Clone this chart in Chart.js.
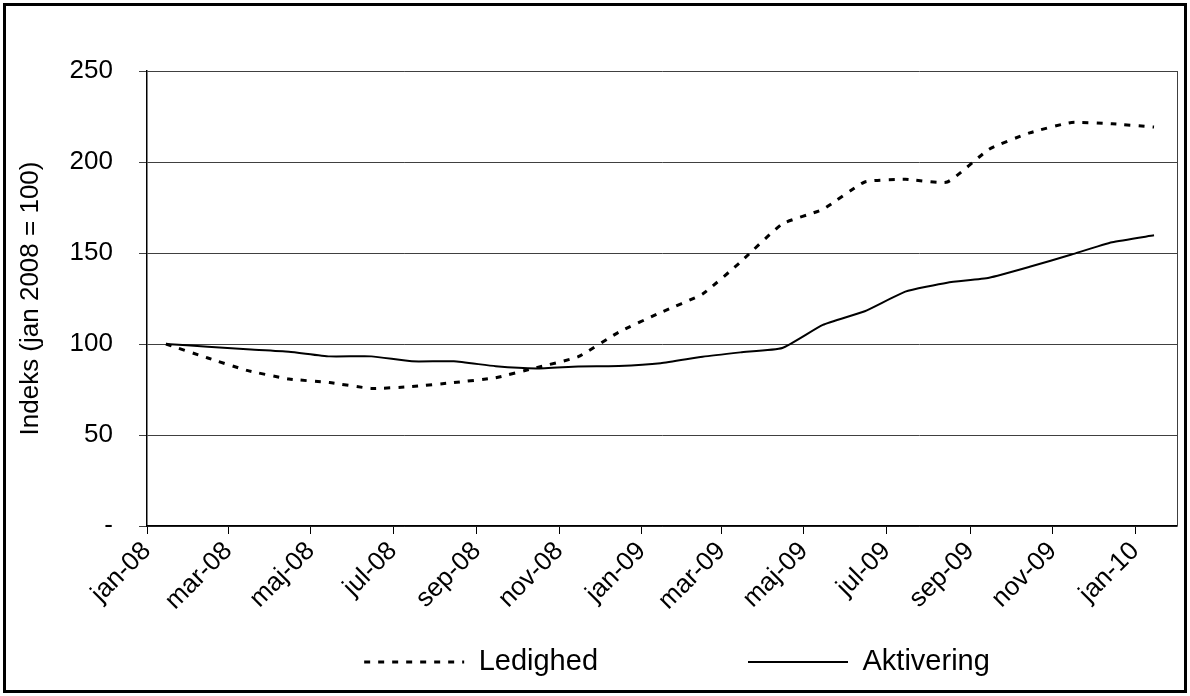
<!DOCTYPE html>
<html>
<head>
<meta charset="utf-8">
<script src="https://cdn.jsdelivr.net/npm/chart.js@4.4.1/dist/chart.umd.min.js"></script>
<style>
  html, body { margin: 0; padding: 0; background: #fff; }
  canvas { display: block; }
</style>
</head>
<body>
<canvas id="c" width="1190" height="696"></canvas>
<script>
// ---- Data (monthly observations, mid-month) ----
const months = ['2008-01','2008-02','2008-03','2008-04','2008-05','2008-06','2008-07','2008-08','2008-09','2008-10','2008-11','2008-12',
                '2009-01','2009-02','2009-03','2009-04','2009-05','2009-06','2009-07','2009-08','2009-09','2009-10','2009-11','2009-12',
                '2010-01'];
const ledighed   = [100, 92.3, 85.5, 80.8, 78.8, 75.6, 76.6, 78.8, 81.5, 87, 93, 106.5,
                    117.3, 127.5, 145, 166, 174, 189, 190.5, 189, 207, 216, 221.7, 221, 219.2];
const aktivering = [100, 98.5, 97.1, 95.8, 93.2, 93.2, 90.5, 90.5, 87.8, 86.6, 87.7, 87.9,
                    89.4, 93, 95.4, 97.8, 110.5, 118, 128.8, 133.7, 136.4, 142.4, 149.2, 155.9, 159.7];
const seriesNames = ['Ledighed', 'Aktivering'];
const tickMonths = ['2008-01','2008-03','2008-05','2008-07','2008-09','2008-11',
                    '2009-01','2009-03','2009-05','2009-07','2009-09','2009-11','2010-01'];
const tickLabels = ['jan-08','mar-08','maj-08','jul-08','sep-08','nov-08',
                    'jan-09','mar-09','maj-09','jul-09','sep-09','nov-09','jan-10'];
const axisEndMonth = '2010-02';
const yTitle = 'Indeks (jan 2008 = 100)';

// ---- helpers ----
function dayOf(ym, d) {
  const [y, m] = ym.split('-').map(Number);
  return (Date.UTC(y, m - 1, d) - Date.UTC(2008, 0, 1)) / 86400000;
}
const toPoints = vals => vals.map((v, i) => ({ x: dayOf(months[i], 15), y: v }));

const FONT_SIZE = 26;
const LEGEND_FONT = 29;
Chart.defaults.font.family = '"Liberation Sans", Arial, sans-serif';
Chart.defaults.font.size = FONT_SIZE;
Chart.defaults.color = '#000';

const frames = {
  id: 'frames',
  afterDraw(chart) {
    const { ctx, chartArea: a } = chart;
    ctx.save();
    ctx.strokeStyle = '#404040';
    ctx.lineWidth = 1;
    ctx.beginPath();
    ctx.moveTo(Math.round(a.right) + 0.5, a.top);
    ctx.lineTo(Math.round(a.right) + 0.5, a.bottom);
    ctx.stroke();
    ctx.strokeStyle = '#000';
    ctx.lineWidth = 3;
    ctx.strokeRect(4.5, 4.5, 1181, 687);
    ctx.restore();
  }
};

// place the legend row centred at (677, 662)
const legendPlace = {
  id: 'legendPlace',
  afterLayout(chart) {
    const lg = chart.legend;
    const pad = lg.options.labels.padding;
    const dx = 677 - (lg.left + lg.right) / 2;
    const dy = 662 - (lg.top + pad + LEGEND_FONT / 2);
    lg.left += dx; lg.right += dx; lg.top += dy;
    lg.bottom = 696;
  }
};

new Chart(document.getElementById('c'), {
  type: 'line',
  data: {
    datasets: [
      {
        label: seriesNames[0],
        data: toPoints(ledighed),
        borderColor: '#000',
        backgroundColor: '#000',
        borderWidth: 3,
        borderDash: [6, 8],
        pointRadius: 0,
        tension: 0.15,
        fill: false
      },
      {
        label: seriesNames[1],
        data: toPoints(aktivering),
        borderColor: '#000',
        backgroundColor: '#000',
        borderWidth: 2,
        pointRadius: 0,
        tension: 0.15,
        fill: false
      }
    ]
  },
  options: {
    responsive: false,
    animation: false,
    devicePixelRatio: 1,
    layout: { padding: { left: 10, top: 71, right: 13, bottom: 0 } },
    plugins: {
      tooltip: { enabled: false },
      legend: {
        position: 'bottom',
        maxHeight: 45,
        labels: {
          usePointStyle: true,
          pointStyle: 'line',
          pointStyleWidth: 100,
          padding: 150,
          color: '#000',
          font: { size: LEGEND_FONT },
          generateLabels(chart) {
            return chart.data.datasets.map((ds, i) => ({
              text: ds.label,
              datasetIndex: i,
              fillStyle: ds.borderColor,
              strokeStyle: ds.borderColor,
              lineWidth: ds.borderWidth,
              lineDash: ds.borderDash || [],
              pointStyle: 'line',
              hidden: false,
              fontColor: '#000'
            }));
          }
        }
      }
    },
    scales: {
      x: {
        type: 'linear',
        min: 0,
        max: dayOf(axisEndMonth, 1),
        afterBuildTicks(scale) {
          scale.ticks = tickMonths.map(m => ({ value: dayOf(m, 1) }));
        },
        afterFit(scale) { scale.height = 125; },
        ticks: {
          autoSkip: false,
          minRotation: 45,
          maxRotation: 45,
          padding: 2,
          callback: (v, i) => tickLabels[i]
        },
        grid: { drawOnChartArea: false, drawTicks: true, tickLength: 8, color: '#000', lineWidth: 1 },
        border: { display: true, color: '#000', width: 1.5 }
      },
      y: {
        min: 0,
        max: 250,
        afterFit(scale) { scale.width = 137; },
        ticks: {
          stepSize: 50,
          padding: 26,
          callback: v => (v === 0 ? '-' : v)
        },
        grid: { color: '#404040', lineWidth: 1, drawTicks: true, tickLength: 8 },
        border: { display: true, color: '#000', width: 1.5 },
        title: {
          display: true,
          text: yTitle,
          color: '#000',
          padding: { top: 5, bottom: 0 },
          font: { size: FONT_SIZE }
        }
      }
    }
  },
  plugins: [frames, legendPlace]
});
</script>
</body>
</html>
